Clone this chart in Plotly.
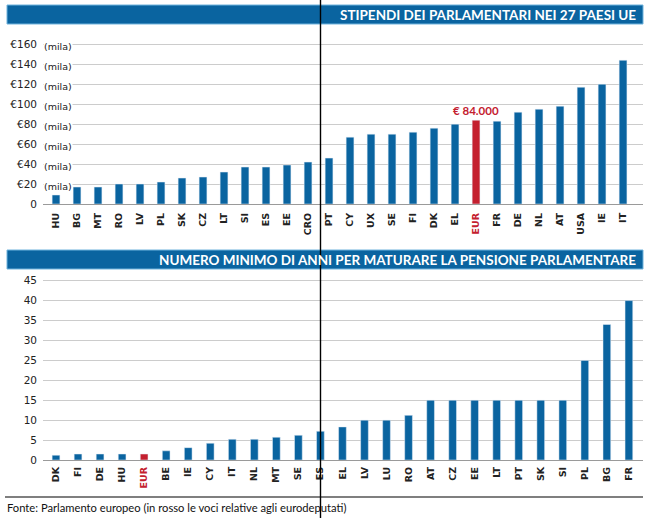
import plotly.graph_objects as go

# ---- data ----
sal_countries = ["HU", "BG", "MT", "RO", "LV", "PL", "SK", "CZ", "LT", "SI", "ES", "EE", "CRO", "PT",
                 "CY", "UX", "SE", "FI", "DK", "EL", "EUR", "FR", "DE", "NL", "AT", "USA", "IE", "IT"]
sal_values = [9, 17, 17, 20, 20, 22, 26, 27, 32, 37, 37, 39, 42, 46,
              67, 70, 70, 72, 76, 80, 84, 83, 92, 95, 98, 117, 120, 144]
sal_ticks = [0, 20, 40, 60, 80, 100, 120, 140, 160]
sal_ticktext = ["0", "€20", "€40", "€60", "€80", "€100", "€120", "€140", "€160"]

pen_countries = ["DK", "FI", "DE", "HU", "EUR", "BE", "IE", "CY", "IT", "NL", "MT", "SE", "ES", "EL",
                 "LV", "LU", "RO", "AT", "CZ", "EE", "LT", "PT", "SK", "SI", "PL", "BG", "FR"]
pen_values = [1.2, 1.5, 1.5, 1.5, 1.5, 2.3, 3.1, 4.2, 5.2, 5.2, 5.7, 6.2, 7.2, 8.3,
              10, 10, 11.2, 15, 15, 15, 15, 15, 15, 15, 25, 34, 40]
pen_ticks = [0, 5, 10, 15, 20, 25, 30, 35, 40, 45]

title_top = "STIPENDI DEI PARLAMENTARI NEI 27 PAESI UE"
title_bottom = "NUMERO MINIMO DI ANNI PER MATURARE LA PENSIONE PARLAMENTARE"
source = "Fonte: Parlamento europeo (in rosso le voci relative agli eurodeputati)"
eur_label = "€ 84.000"

# ---- style ----
W, H = 648, 518
BLUE = "#0a64a0"
RED = "#c4202f"
GRID = "#cccccc"
TICKFONT = "DejaVu Sans"
TITLEFONT = "Lato"

def px(x):
    return x / W

def py(y):
    return 1 - y / H

def colors(cats):
    return [RED if c == "EUR" else BLUE for c in cats]

def ticktext(cats):
    return [f'<b><span style="color:{RED}">{c}</span></b>' if c == "EUR" else f"<b>{c}</b>"
            for c in cats]

fig = go.Figure()
fig.add_trace(go.Bar(x=sal_countries, y=sal_values, marker_color=colors(sal_countries),
                     width=0.37, xaxis="x", yaxis="y", showlegend=False, hoverinfo="x+y"))
fig.add_trace(go.Bar(x=pen_countries, y=pen_values, marker_color=colors(pen_countries),
                     width=0.35, xaxis="x2", yaxis="y2", showlegend=False, hoverinfo="x+y"))

top_max = 162
fig.update_layout(
    xaxis=dict(domain=[px(43), px(643)], range=[-0.62, 27.95], type="category",
               tickmode="array", tickvals=sal_countries, ticktext=ticktext(sal_countries),
               tickangle=-90, tickfont=dict(family=TICKFONT, size=9.5, color="#222"),
               showgrid=False, ticks="", ticklabelstandoff=6, automargin=False, anchor="y"),
    yaxis=dict(domain=[py(204), py(204 - top_max * 0.998)], range=[0, top_max],
               tickmode="array", tickvals=sal_ticks, ticktext=sal_ticktext,
               tickfont=dict(family=TICKFONT, size=10.5, color="#222"),
               showgrid=True, gridcolor=GRID, gridwidth=1, zeroline=True, zerolinecolor="#9a9a9a",
               zerolinewidth=1, ticks="", ticklabelstandoff=5, automargin=False, anchor="x"),
    xaxis2=dict(domain=[px(43), px(643)], range=[-0.59, 26.64], type="category",
                tickmode="array", tickvals=pen_countries, ticktext=ticktext(pen_countries),
                tickangle=-90, tickfont=dict(family=TICKFONT, size=9.5, color="#222"),
                showgrid=False, ticks="", ticklabelstandoff=4, automargin=False, anchor="y2"),
    yaxis2=dict(domain=[py(460), py(460 - 46 * 3.985)], range=[0, 46],
                tickmode="array", tickvals=pen_ticks,
                tickfont=dict(family=TICKFONT, size=10.5, color="#222"),
                showgrid=True, gridcolor=GRID, gridwidth=1, zeroline=True, zerolinecolor="#9a9a9a",
                zerolinewidth=1, ticks="", ticklabelstandoff=5, automargin=False, anchor="x2"),
    width=W, height=H, margin=dict(l=0, r=0, t=0, b=0),
    plot_bgcolor="white", paper_bgcolor="white", bargap=0.6,
)

shapes = [
    dict(type="rect", xref="paper", yref="paper", x0=px(7), x1=px(643), y0=py(24), y1=py(5),
         fillcolor=BLUE, line=dict(color="#6fb3dd", width=1), layer="above"),
    dict(type="rect", xref="paper", yref="paper", x0=px(7), x1=px(643), y0=py(269), y1=py(250),
         fillcolor=BLUE, line=dict(color="#6fb3dd", width=1), layer="above"),
    dict(type="line", xref="paper", yref="paper", x0=px(5), x1=px(643), y0=py(497), y1=py(497),
         line=dict(color="#555555", width=1.5)),
    dict(type="line", xref="paper", yref="paper", x0=px(320.5), x1=px(320.5), y0=0, y1=1,
         line=dict(color="black", width=1.4), layer="above"),
]
fig.update_layout(shapes=shapes)

annotations = [
    dict(text="<b>" + title_top + "</b>", xref="paper", yref="paper", x=px(638), y=py(14.5),
         xanchor="right", yanchor="middle", showarrow=False,
         font=dict(family=TITLEFONT, size=13.5, color="white")),
    dict(text="<b>" + title_bottom + "</b>", xref="paper", yref="paper", x=px(638), y=py(259.5),
         xanchor="right", yanchor="middle", showarrow=False,
         font=dict(family=TITLEFONT, size=13.5, color="white")),
    dict(text=source, xref="paper", yref="paper", x=px(5), y=py(507), xanchor="left",
         yanchor="middle", showarrow=False, font=dict(family=TITLEFONT, size=11.2, color="#111")),
    dict(text="<b>" + eur_label + "</b>", xref="x", yref="y", x="EUR", y=84, xanchor="center",
         yanchor="bottom", yshift=1, showarrow=False,
         font=dict(family=TITLEFONT, size=11.5, color=RED)),
]
for v in sal_ticks[1:]:
    annotations.append(dict(text="(mila)", xref="paper", yref="y", x=px(43), y=v, xanchor="left",
                            yanchor="middle", yshift=-2, showarrow=False, bgcolor="white",
                            borderpad=0,
                            font=dict(family=TICKFONT, size=9.5, color="#222")))
fig.update_layout(annotations=annotations)

fig.write_html("out.html", config={"displayModeBar": False},
               post_script="document.body.style.margin='0';document.body.style.overflow='hidden';")
